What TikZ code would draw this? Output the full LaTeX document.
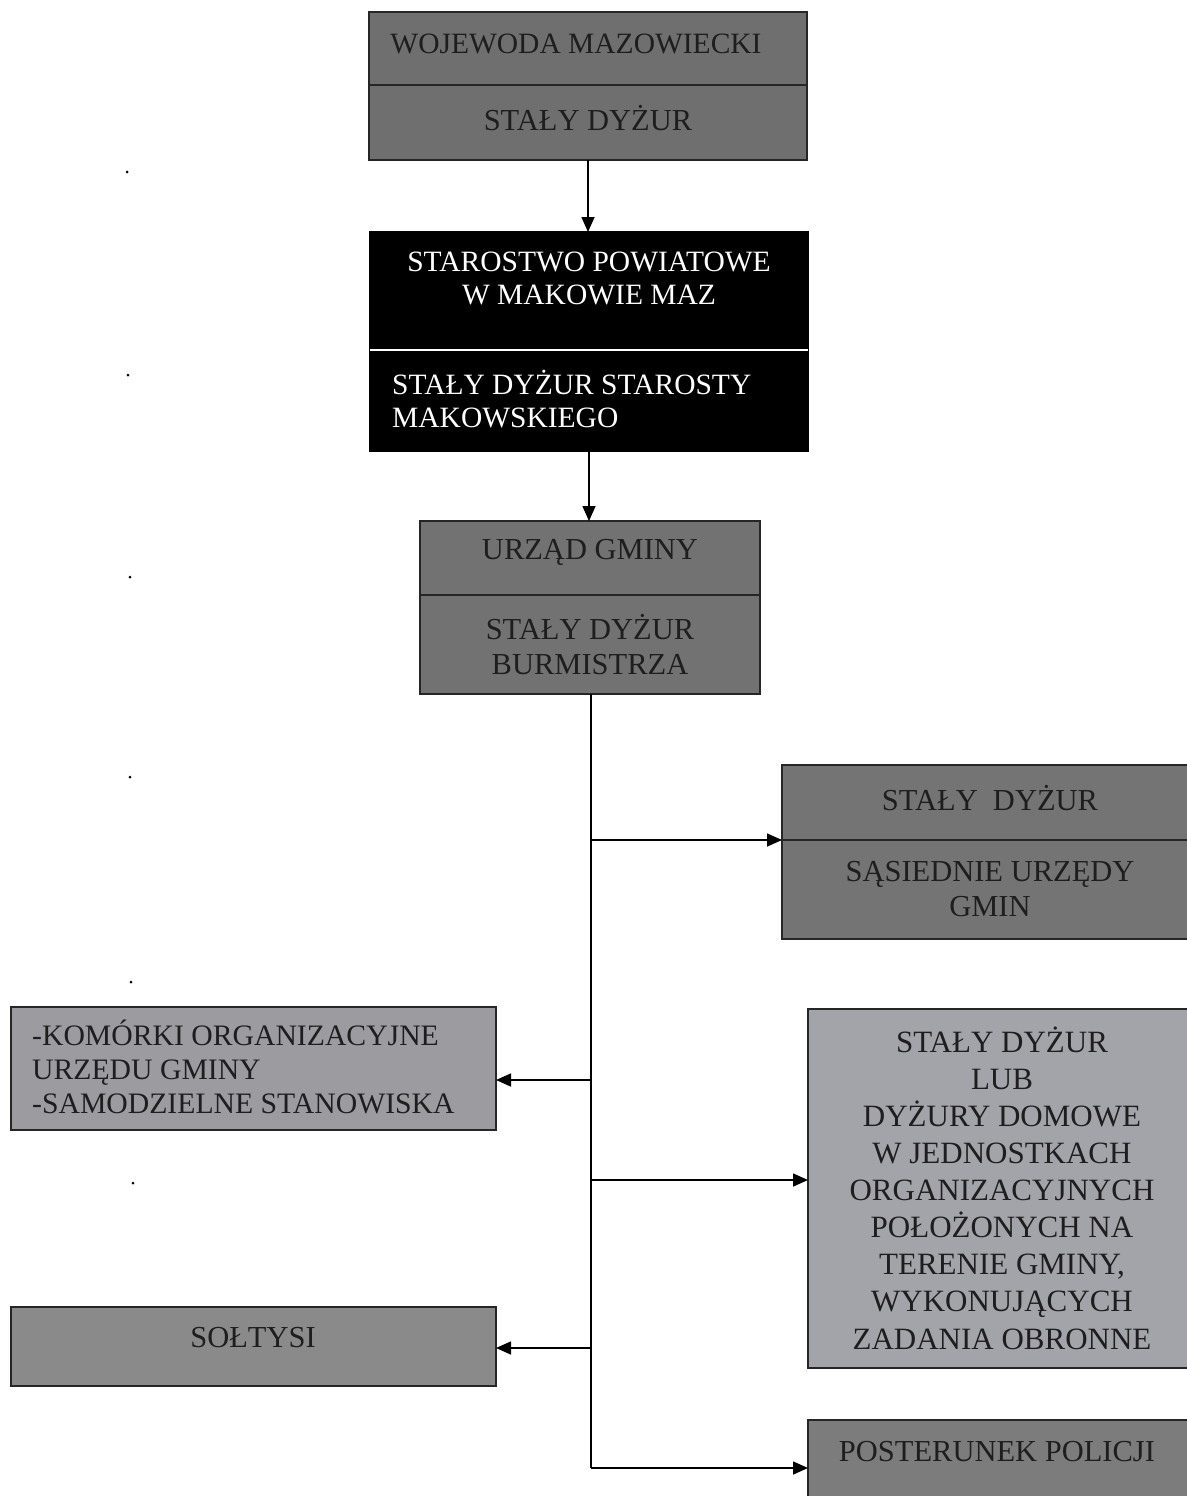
\documentclass[tikz,border=0pt]{standalone}
\usepackage{fontspec}
\setmainfont{Liberation Serif}
\usetikzlibrary{arrows.meta}
\definecolor{gA}{RGB}{111,111,111}
\definecolor{gB}{RGB}{114,114,114}
\definecolor{gC}{RGB}{116,116,116}
\definecolor{gD}{RGB}{155,155,160}
\definecolor{gE}{RGB}{163,163,170}
\definecolor{gF}{RGB}{138,138,138}
\definecolor{gG}{RGB}{124,124,124}
\definecolor{txt}{RGB}{30,30,30}
\newcommand\fsA{\fontsize{30.5}{35}\selectfont}
\newcommand\fsB{\fontsize{29.5}{33}\selectfont}
\newcommand\fsC{\fontsize{29.7}{34}\selectfont}
\newcommand\fsD{\fontsize{31}{37.1}\selectfont}
\begin{document}
\begin{tikzpicture}[x=1pt,y=-1pt,
  panel/.style={draw=black!85, line width=1.2pt, anchor=north west, inner sep=0pt, outer sep=0pt},
  lbl/.style={font=\fsA, text=txt, align=center, inner sep=0pt},
  wlbl/.style={font=\fsB, text=white, align=center, inner sep=0pt},
  line/.style={line width=1.6pt, black},
  conn/.style={line width=1.6pt, black, -{Triangle[length=15pt,width=13pt]}}]
\useasboundingbox (0,0) rectangle (1186,1496);
\fill[white] (0,0) rectangle (1186,1496);

% Wojewoda
\node[panel, fill=gA, minimum width=438, minimum height=73] (wojA) at (369,12) {};
\node[panel, fill=gA, minimum width=438, minimum height=75] (wojB) at (369,85) {};
\node[lbl, font=\fontsize{29.5}{35}\selectfont] (wojT) at (576,44) {WOJEWODA MAZOWIECKI};
\node[lbl] (wojS) at (588,118) {STAŁY DYŻUR};

% Starostwo
\node[panel, fill=black, draw=black, minimum width=438, minimum height=118] (starA) at (370,232) {};
\node[panel, fill=black, draw=black, minimum width=438, minimum height=101] (starB) at (370,350) {};
\draw[white, line width=2pt] (starA.south west) -- (starA.south east);
\node[wlbl] (starT) at (589,278) {STAROSTWO POWIATOWE\\W MAKOWIE MAZ};
\node[wlbl, anchor=west, align=left] (starS) at (392,399) {STAŁY DYŻUR STAROSTY\\MAKOWSKIEGO};

% Urzad gminy
\node[panel, fill=gB, minimum width=340, minimum height=74] (urzA) at (420,521) {};
\node[panel, fill=gB, minimum width=340, minimum height=99] (urzB) at (420,595) {};
\node[lbl] (urzT) at (590,552) {URZĄD GMINY};
\node[lbl] (urzS) at (590,645) {STAŁY DYŻUR\\BURMISTRZA};

% Sasiednie urzedy
\node[panel, fill=gC, minimum width=420, minimum height=75] (sasA) at (782,765) {};
\node[panel, fill=gC, minimum width=420, minimum height=99] (sasB) at (782,840) {};
\node[lbl] (sasT) at (990,798) {STAŁY\ \ DYŻUR};
\node[lbl] (sasS) at (990,889) {SĄSIEDNIE URZĘDY\\GMIN};

% Komorki
\node[panel, fill=gD, minimum width=485, minimum height=123] (kom) at (11,1007) {};
\node[lbl, font=\fsC, anchor=west, align=left] (komT) at (32,1067) {-KOMÓRKI ORGANIZACYJNE\\URZĘDU GMINY\\-SAMODZIELNE STANOWISKA};

% Dyzury domowe
\node[panel, fill=gE, minimum width=390, minimum height=359] (dyz) at (808,1009) {};
\node[lbl, font=\fsD] (dyzT) at (1002,1188) {STAŁY DYŻUR\\LUB\\DYŻURY DOMOWE\\W JEDNOSTKACH\\ORGANIZACYJNYCH\\POŁOŻONYCH NA\\TERENIE GMINY,\\WYKONUJĄCYCH\\ZADANIA OBRONNE};

% Soltysi
\node[panel, fill=gF, minimum width=485, minimum height=79] (sol) at (11,1307) {};
\node[lbl] (solT) at (253,1338) {SOŁTYSI};

% Posterunek
\node[panel, fill=gG, minimum width=390, minimum height=100] (post) at (808,1420) {};
\node[lbl] (postT) at (997,1452) {POSTERUNEK POLICJI};

% connectors
\draw[conn] (wojB.south) -- (wojB.south |- starA.north);
\draw[conn] (starB.south) -- (starB.south |- urzA.north);
\coordinate (jA) at (591,840);
\coordinate (jB) at (591,1080);
\coordinate (jC) at (591,1180);
\coordinate (jD) at (591,1348);
\coordinate (jE) at (591,1468);
\draw[line] (urzB.south -| jA) -- (jE);
\draw[conn] (jA) -- (sasA.south west |- jA);
\draw[conn] (jB) -- (kom.east |- jB);
\draw[conn] (jC) -- (dyz.west |- jC);
\draw[conn] (jD) -- (sol.east |- jD);
\draw[conn] (jE) -- (post.west |- jE);

% stray dots
\foreach \px/\py in {127/172,128/375,130/577,130/777,131/982,133/1183}
  \fill[black] (\px,\py) circle (1.5);
\end{tikzpicture}
\end{document}
